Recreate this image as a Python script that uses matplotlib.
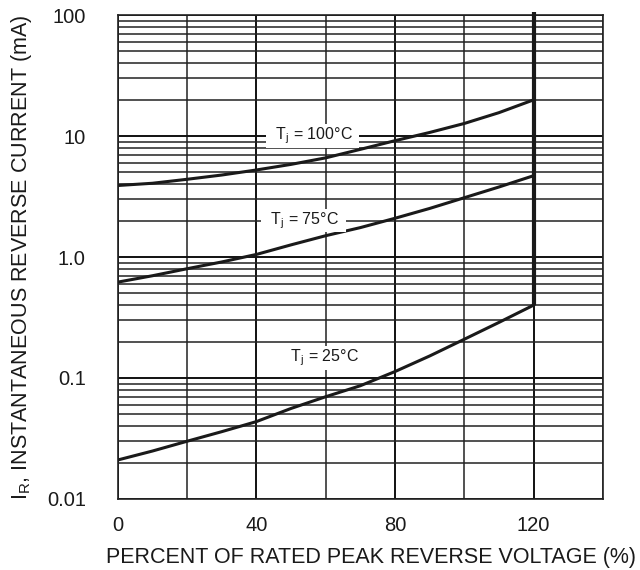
import matplotlib
matplotlib.use("Agg")
import matplotlib.pyplot as plt
from matplotlib.ticker import FixedLocator, LogLocator, NullFormatter

plt.rcParams['font.family'] = ['Liberation Sans', 'DejaVu Sans']
plt.rcParams['mathtext.fontset'] = 'custom'
plt.rcParams['mathtext.rm'] = 'Liberation Sans'
plt.rcParams['mathtext.it'] = 'Liberation Sans'

# Data
voltage_pct = [0, 10, 20, 30, 40, 50, 60, 70, 80, 90, 100, 110, 120]
ir_100c = [3.9, 4.07, 4.39, 4.76, 5.24, 5.83, 6.6, 7.76, 9.15, 10.7, 12.7, 15.6, 19.9]
ir_75c = [0.62, 0.70, 0.80, 0.91, 1.05, 1.26, 1.50, 1.75, 2.09, 2.52, 3.09, 3.79, 4.7]
ir_25c = [0.021, 0.0249, 0.030, 0.036, 0.0436, 0.056, 0.070, 0.0863, 0.113, 0.152, 0.209, 0.288, 0.40]
limit_x = 120
limit_y = [0.40, 105]

x_ticks = [0, 40, 80, 120]
x_grid = [0, 20, 40, 60, 80, 100, 120, 140]
y_ticks = [0.01, 0.1, 1, 10, 100]
y_tick_labels = ['0.01', '0.1', '1.0', '10', '100']

labels = ['T$_\\mathregular{j}$ = 100°C', 'T$_\\mathregular{j}$ = 75°C', 'T$_\\mathregular{j}$ = 25°C']
label_pos = [(56.2, 10.0), (53.5, 2.0), (59.2, 0.146)]

fig = plt.figure(figsize=(6.4, 5.7), dpi=100)
ax = fig.add_axes([0.184, 0.1246, 0.758, 0.849])
ax.set_yscale('log')
ax.set_xlim(0, 140)
ax.set_ylim(0.01, 100)

ax.xaxis.set_major_locator(FixedLocator(x_ticks))
ax.xaxis.set_minor_locator(FixedLocator(x_grid))
ax.yaxis.set_major_locator(FixedLocator(y_ticks))
ax.set_yticklabels(y_tick_labels)
ax.yaxis.set_minor_locator(LogLocator(base=10, subs=range(2, 10)))
ax.yaxis.set_minor_formatter(NullFormatter())

ax.grid(which='major', color='#111111', linewidth=1.4, zorder=0)
ax.grid(which='minor', color='#222222', linewidth=1.1, zorder=0)
ax.tick_params(which='both', length=0, labelsize=14.5, labelcolor='#1a1a1a')
ax.tick_params(axis='y', pad=23)
ax.tick_params(axis='x', pad=12)
for s in ax.spines.values():
    s.set_linewidth(1.2)
    s.set_color('#222222')

for ys in (ir_100c, ir_75c, ir_25c):
    ax.plot(voltage_pct, ys, color='#1a1a1a', linewidth=2.2, zorder=3)
ax.plot([limit_x, limit_x], limit_y, color='#1a1a1a', linewidth=3.0,
        zorder=3, clip_on=False, solid_capstyle='butt')

for txt, (lx, ly) in zip(labels, label_pos):
    ax.text(lx, ly, '  ' + txt + '  ', ha='center', va='center', fontsize=11.5,
            color='#1a1a1a', zorder=4,
            bbox=dict(facecolor='white', edgecolor='none', pad=1.0))

ax.set_xlabel('PERCENT OF RATED PEAK REVERSE VOLTAGE (%)', fontsize=15.5,
              color='#1a1a1a')
ax.xaxis.set_label_coords(0.523, -0.099)
ax.set_ylabel('I$_\\mathregular{R}$, INSTANTANEOUS REVERSE CURRENT (mA)', fontsize=15.5,
              color='#1a1a1a')
ax.yaxis.set_label_coords(-0.172, 0.5)

fig.savefig('out.png', dpi=100)
